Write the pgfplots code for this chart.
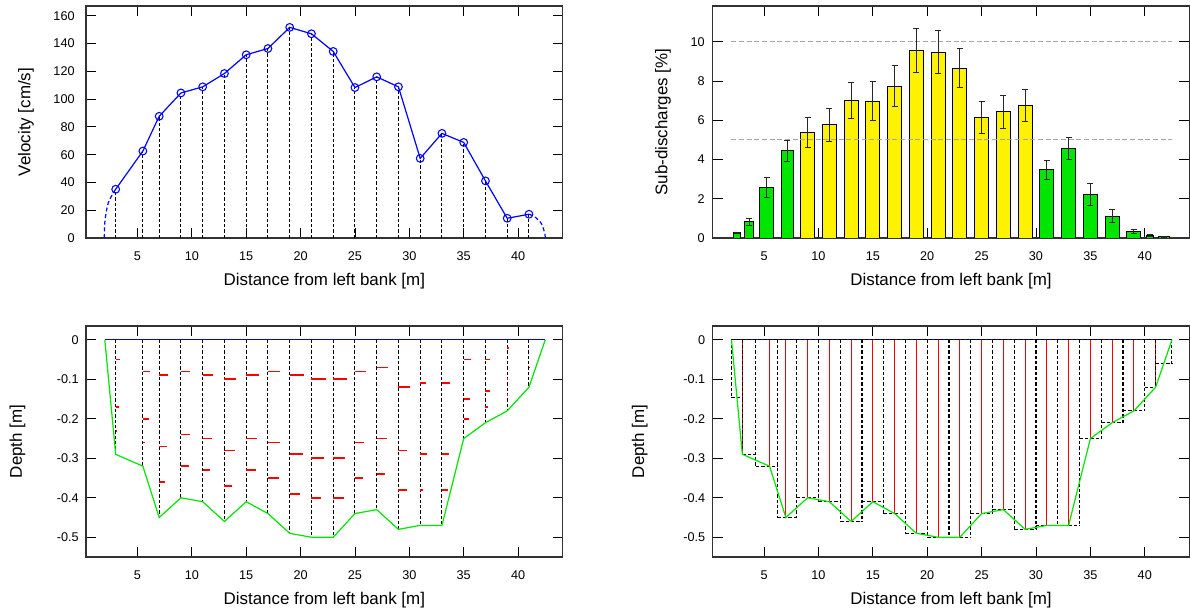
\documentclass[border=0pt]{standalone}
\usepackage{pgfplots}
\usepackage{pgfplotstable}
\pgfplotsset{compat=1.18}
\usepackage{fontspec}
\setmainfont{Liberation Sans}
\definecolor{lime}{RGB}{0,230,0}
\definecolor{frame}{RGB}{50,50,50}
\newcommand{\ticksize}{\fontsize{9.5}{11}\selectfont}
\newcommand{\labelsize}{\fontsize{12.7}{15}\selectfont}

\pgfplotstableread{
x v
3 35.1
5.5 62.6
7 87.6
9 104.4
11 108.8
13 118.4
15 131.9
17 136.4
19 151.6
21 147.0
23 134.3
25 108.3
27 116.0
29 108.8
31 57.3
33 75.3
35 68.8
37 41.1
39 14.2
41 17.1
}\veltab

\pgfplotstableread{
x d
2 0
3 -0.29
5.5 -0.32
7 -0.45
9 -0.40
11 -0.41
13 -0.46
15 -0.41
17 -0.44
19 -0.49
21 -0.50
23 -0.50
25 -0.44
27 -0.43
29 -0.48
31 -0.47
33 -0.47
35 -0.25
37 -0.21
39 -0.18
41 -0.12
42.5 0
}\deptab

\pgfplotstableread{
x y u
3 -0.05 0.40
3 -0.17 0.28
3 -0.23 0.12
5.5 -0.08 0.67
5.5 -0.20 0.58
5.5 -0.26 0.18
7 -0.09 0.77
7 -0.27 0.74
7 -0.36 0.58
9 -0.08 0.83
9 -0.24 0.86
9 -0.32 0.71
11 -0.09 0.95
11 -0.25 0.86
11 -0.33 0.67
13 -0.10 1.10
13 -0.28 0.95
13 -0.37 0.74
15 -0.09 1.20
15 -0.25 1.01
15 -0.33 0.92
17 -0.08 1.13
17 -0.26 1.07
17 -0.35 0.98
19 -0.09 1.29
19 -0.29 1.20
19 -0.39 0.98
21 -0.10 1.35
21 -0.30 1.17
21 -0.40 0.92
23 -0.10 1.23
23 -0.30 1.04
23 -0.40 0.95
25 -0.08 1.01
25 -0.26 0.86
25 -0.35 0.77
27 -0.07 1.01
27 -0.25 0.92
27 -0.34 0.80
29 -0.12 1.04
29 -0.28 0.83
29 -0.38 0.74
31 -0.11 0.52
31 -0.29 0.58
31 -0.38 0.25
33 -0.11 0.77
33 -0.29 0.61
33 -0.38 0.52
35 -0.05 0.67
35 -0.15 0.58
35 -0.20 0.46
37 -0.05 0.43
37 -0.13 0.40
37 -0.17 0.25
39 -0.02 0.12
39 -0.10 0.09
39 -0.14 0.09
41 -0.07 0.12
}\pointtab

\pgfplotstableread{
x y
2 0.27
3 0.83
4.25 2.57
6.25 4.44
8 0
}\greenA

\pgfplotstableread{
x y
8 5.37
10 5.77
12 7.0
14 6.97
16 7.74
18 9.57
20 9.47
22 8.66
24 6.14
26 6.43
28 6.75
30 0
}\yellowtab

\pgfplotstableread{
x y
30 3.47
32 4.56
34 2.21
36 1.11
38 0.34
40 0.12
41 0.07
42.5 0
}\greenB

\pgfplotstableread{
x y e
2.5 0.27 0.03
3.625 0.83 0.17
5.25 2.57 0.53
7.125 4.44 0.54
9 5.37 0.78
11 5.77 0.83
13 7.0 0.9
15 6.97 0.98
17 7.74 1.03
19 9.57 1.13
21 9.47 1.1
23 8.66 1.0
25 6.14 0.82
27 6.43 0.85
29 6.75 0.8
31 3.47 0.47
33 4.56 0.57
35 2.21 0.56
37 1.11 0.33
39 0.34 0.11
40.5 0.12 0.04
41.75 0.07 0.02
}\errtab

% section depths (horizontal tops) and section boundaries
\pgfplotstableread{
x d
2 -0.145
3 -0.29
4.25 -0.32
6.25 -0.45
8 -0.40
10 -0.41
12 -0.46
14 -0.41
16 -0.44
18 -0.49
20 -0.50
22 -0.50
24 -0.44
26 -0.43
28 -0.48
30 -0.47
32 -0.47
34 -0.25
36 -0.21
38 -0.18
40 -0.12
41 -0.06
42.5 -0.06
}\sectab

\pgfplotstableread{
x m
2 -0.145
3 -0.29
4.25 -0.32
6.25 -0.45
8 -0.45
10 -0.41
12 -0.46
14 -0.46
16 -0.44
18 -0.49
20 -0.50
22 -0.50
24 -0.50
26 -0.44
28 -0.48
30 -0.48
32 -0.47
34 -0.47
36 -0.25
38 -0.21
40 -0.18
41 -0.12
42.5 -0.06
}\bndtab

\pgfplotsset{
  panel/.style={
    scale only axis, width=357.5pt, height=174pt,
    xmin=0.27, xmax=44.1,
    tick align=inside, major tick length=7.5pt,
    axis line style={frame, line width=0.8pt},
    tick style={black, line width=0.6pt},
    tick label style={font=\ticksize},
    xtick={5,10,...,40},
    /pgf/number format/assume math mode=true,
    xticklabel style={yshift=-7pt},
    xlabel={Distance from left bank [m]},
    every axis x label/.style={at={(axis description cs:0.5,-0.188)}, anchor=center, font=\labelsize},
  },
  ylab/.style={every axis y label/.style={at={(axis description cs:#1,0.5)}, rotate=90, anchor=center, font=\labelsize}},
  depthax/.style={ymin=-0.55, ymax=0.035, ytick={-0.5,-0.4,-0.3,-0.2,-0.1,0},
    yticklabels={-0.5,-0.4,-0.3,-0.2,-0.1,0}, ylabel={Depth [m]}},
}

\begin{document}
\begin{tikzpicture}
\useasboundingbox (0,0) rectangle (892.5pt,461.25pt);

% top left: velocity
\begin{axis}[panel, at={(64.5pt,282.75pt)}, anchor=south west,
  ymin=0, ymax=167, ytick={0,20,...,160},
  yticklabel style={xshift=-5pt},
  ylabel={Velocity [cm/s]}, ylab=-0.126]
\addplot[blue, line width=0.9pt, dash pattern=on 3pt off 2pt, smooth] coordinates {(1.95,0) (2.02,12.8) (2.3,24.8) (2.75,32) (3,35.1)};
\addplot[blue, line width=0.9pt, dash pattern=on 3pt off 2pt, smooth] coordinates {(41,17.1) (41.54,15.2) (42.15,10.3) (42.46,3.1) (42.5,0)};
\addplot[black, line width=0.7pt, dash pattern=on 2.5pt off 1.5pt, quiver={u=0, v=\thisrow{v}}] table[x=x, y expr=0] {\veltab};
\addplot[blue, line width=0.9pt, mark=o, mark size=2.9pt, mark options={solid, line width=0.8pt}] table[x=x, y=v] {\veltab};
\end{axis}

% top right: sub-discharges
\begin{axis}[panel, at={(534.5pt,282.75pt)}, anchor=south west,
  ymin=0, ymax=11.82, ytick={0,2,...,10},
  yticklabel style={xshift=-2.5pt},
  ylabel={Sub-discharges [\%]}, ylab=-0.104]
\addplot[ybar interval, bar interval width=0.65, fill=lime, draw=black, line width=0.7pt] table[x=x,y=y] {\greenA};
\addplot[ybar interval, bar interval width=0.65, fill=yellow, draw=black, line width=0.7pt] table[x=x,y=y] {\yellowtab};
\addplot[ybar interval, bar interval width=0.65, fill=lime, draw=black, line width=0.7pt] table[x=x,y=y] {\greenB};
\addplot[gray!70, line width=0.9pt, dash pattern=on 3.75pt off 2pt] coordinates {(2,10) (42.5,10)};
\addplot[gray!70, line width=0.9pt, dash pattern=on 3.75pt off 2pt] coordinates {(2,5) (42.5,5)};
\addplot[draw=none, mark=none, error bars/.cd, y dir=both, y explicit,
  error bar style={draw=black!85, solid, line width=0.7pt}, error mark options={rotate=90, mark size=2.2pt, draw=black!85, solid, line width=0.7pt}]
  table[x=x, y=y, y error=e] {\errtab};
\end{axis}

% bottom left: depth profile with points
\begin{axis}[panel, depthax, at={(64.5pt,43.5pt)}, anchor=south west,
  height=173.25pt, yticklabel style={xshift=-2pt}, ylab=-0.1436]
\addplot[black, line width=0.7pt, dash pattern=on 2.5pt off 1.5pt, quiver={u=0, v=\thisrow{d}}] table[x=x, y expr=0] {\deptab};
\addplot[draw=none, mark=none, error bars/.cd, x dir=plus, x explicit, error mark=none,
  error bar style={draw=red, solid, line width=1.3pt}] table[x=x, y=y, x error=u] {\pointtab};
\addplot[lime, line width=0.9pt] table[x=x, y=d] {\deptab};
\addplot[blue, line width=0.9pt] coordinates {(2,0) (42.5,0)};
\end{axis}

% bottom right: sections
\begin{axis}[panel, depthax, at={(534.5pt,43.5pt)}, anchor=south west,
  height=173.25pt, yticklabel style={xshift=-2pt}, ylab=-0.153]
\addplot[blue, line width=0.9pt] coordinates {(2,0) (42.5,0)};
\addplot[draw=none, mark=none, error bars/.cd, y dir=plus, y explicit, error mark=none,
  error bar style={draw=red, solid, line width=0.8pt}] table[x=x, y=d, y error expr=-\thisrow{d}] {\deptab};
\addplot[black, line width=0.8pt, dash pattern=on 2.5pt off 1.5pt] coordinates {(2,0) (42.5,0)};
\addplot[black, line width=0.8pt, dash pattern=on 2.5pt off 1.5pt, jump mark left] table[x=x, y=d] {\sectab};
\addplot[black, line width=0.8pt, dash pattern=on 2.5pt off 1.5pt, quiver={u=0, v=\thisrow{m}}] table[x=x, y expr=0] {\bndtab};
\addplot[lime, line width=0.9pt] table[x=x, y=d] {\deptab};
\end{axis}
\end{tikzpicture}
\end{document}
